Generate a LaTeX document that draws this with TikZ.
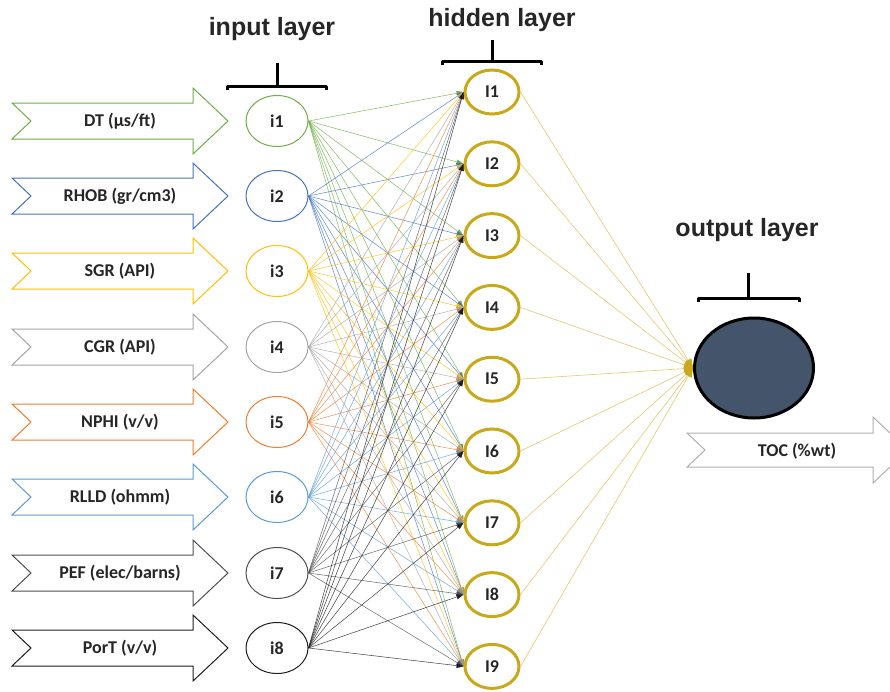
\documentclass[tikz,border=0pt]{standalone}
\usepackage{fontspec}
\setmainfont{Carlito}
\newfontfamily\headfont{Liberation Sans}
\usetikzlibrary{shapes.geometric,arrows.meta}

% palette
\definecolor{cDT}{RGB}{112,173,71}
\definecolor{cRHOB}{RGB}{68,114,196}
\definecolor{cSGR}{RGB}{255,192,0}
\definecolor{cCGR}{RGB}{165,165,165}
\definecolor{cNPHI}{RGB}{237,125,49}
\definecolor{cRLLD}{RGB}{91,155,213}
\definecolor{cPEF}{RGB}{80,80,80}
\definecolor{cPorT}{RGB}{30,30,30}
\definecolor{txt}{RGB}{38,38,38}
\definecolor{hgold}{RGB}{201,168,26}
\definecolor{hline}{RGB}{228,200,110}
\definecolor{slate}{RGB}{68,84,106}
\definecolor{tocgray}{RGB}{175,175,175}

\begin{document}
\begin{tikzpicture}[x=1pt,y=-1pt,
  inneuron/.style={draw, ellipse, line width=1pt, minimum width=62pt, minimum height=51pt,
    inner sep=0pt, text=txt, font=\bfseries\fontsize{18}{20}\selectfont},
  hneuron/.style={draw=hgold, ellipse, line width=3pt, minimum width=54pt, minimum height=44pt,
    inner sep=0pt, text=txt, font=\bfseries\fontsize{18}{20}\selectfont},
  outneuron/.style={draw=black, fill=slate, ellipse, line width=3pt, minimum width=119pt,
    minimum height=100pt, inner sep=0pt},
  featlabel/.style={text=txt, font=\bfseries\fontsize{18}{20}\selectfont},
  layertitle/.style={text=txt, anchor=base, font=\headfont\bfseries\fontsize{25}{28}\selectfont},
  bracketline/.style={line width=3pt, black, line join=round},
  conn/.style={line width=0.55pt, draw opacity=0.8,
    -{Triangle[length=7pt,width=5pt]}},
  outconn/.style={line width=0.6pt, hline,
    -{Triangle[length=9pt,width=7pt,color=hgold]}},
]
\useasboundingbox (0,0) rectangle (890,691);
\clip (0,0) rectangle (890,691);

% input feature arrows (notched) with their labels
\foreach \k/\yc/\col/\lab in {
  1/121/cDT/{DT (µs/ft)},
  2/196/cRHOB/{RHOB (gr/cm3)},
  3/271/cSGR/{SGR (API)},
  4/347/cCGR/{CGR (API)},
  5/422/cNPHI/{NPHI (v/v)},
  6/497/cRLLD/{RLLD (ohmm)},
  7/573/cPEF/{PEF (elec/barns)},
  8/648/cPorT/{PorT (v/v)}}{
  \draw[\col, line width=1pt, fill=white, line join=miter]
    (12,\yc-18) -- (193,\yc-18) -- (193,\yc-33) -- (228,\yc) -- (193,\yc+33)
    -- (193,\yc+18) -- (12,\yc+18) -- (31,\yc) -- cycle;
  \node[featlabel] (feat\k) at (120,\yc) {\lab};
  \node[inneuron, draw=\col] (i\k) at (277,\yc) {i\k};
}

% hidden neurons
\foreach \j in {1,...,9}{
  \node[hneuron] (h\j) at (492,{92+71.8*(\j-1)}) {I\j};
}

% output neuron
\node[outneuron] (out) at (754,368) {};

% fully connected input -> hidden
\foreach \k/\col in {1/cDT,2/cRHOB,3/cSGR,4/cCGR,5/cNPHI,6/cRLLD,7/cPEF,8/cPorT}{
  \foreach \j in {1,...,9}{
    \draw[conn, \col] (i\k.east) -- (h\j.west);
  }
}

% hidden -> output
\foreach \j in {1,...,9}{
  \draw[outconn] (h\j.east) -- (out.west);
}

% output arrow
\draw[tocgray, line width=1pt, fill=white, line join=miter]
  (687,433) -- (873,433) -- (873,417) -- (908,450) -- (873,483)
  -- (873,467) -- (687,467) -- (705,450) -- cycle;
\node[featlabel] (toc) at (797,451) {TOC (\%wt)};

% layer titles
\node[layertitle] (tin) at (272,35) {input layer};
\node[layertitle] (thid) at (502,26) {hidden layer};
\node[layertitle] (tout) at (747,236) {output layer};

% brackets
\draw[bracketline] (227,90) -- (227,86) -- (326,86) -- (326,90);
\draw[bracketline] (277,86) -- (277,63);
\draw[bracketline] (442,65) -- (442,61) -- (541,61) -- (541,65);
\draw[bracketline] (492,61) -- (492,40);
\draw[bracketline] (698,302) -- (698,298) -- (799,298) -- (799,302);
\draw[bracketline] (748,298) -- (748,273);
\end{tikzpicture}
\end{document}
